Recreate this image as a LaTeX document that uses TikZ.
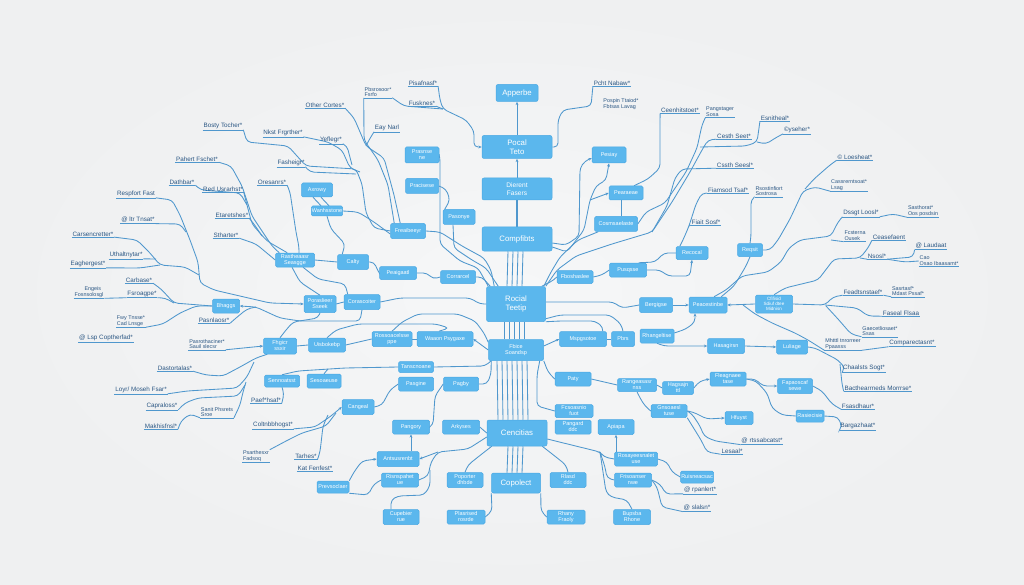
\documentclass[tikz,border=0pt]{standalone}
\usepackage{fontspec}
\setmainfont{Liberation Sans}
\usetikzlibrary{arrows.meta}
\pgfdeclarelayer{back}\pgfdeclarelayer{wires}\pgfsetlayers{back,wires,main}
\definecolor{bgin}{HTML}{F6F7F8}
\definecolor{bgout}{HTML}{EFF0F1}
\definecolor{boxfill}{HTML}{5BB7ED}
\definecolor{boxedge}{HTML}{4AA8E3}
\definecolor{linec}{HTML}{4F97CD}
\definecolor{lbltext}{HTML}{2A5683}
\begin{document}
\begin{tikzpicture}[x=1pt,y=-1pt,
  bx/.style={draw=boxedge,fill=boxfill,rounded corners=1.5pt,line width=0.5pt,text=white,font=\fontsize{5.5}{6}\selectfont,align=center,inner sep=0.5pt},
  big/.style={bx,font=\fontsize{7.8}{8.8}\selectfont,rounded corners=2pt},
  sz/.style 2 args={minimum width=#1pt,minimum height=#2pt},
  ul/.style={draw=linec,line width=0.55pt},
  lb/.style={text=lbltext,font=\fontsize{6.3}{6.7}\selectfont,align=left,inner sep=0.7pt,
    append after command={(\tikzlastnode.south west) edge[ul] (\tikzlastnode.south east)}},
  lbn/.style={text=lbltext,font=\fontsize{6.3}{6.7}\selectfont,align=left,inner sep=0.7pt},
  ln/.style={draw=linec,line width=0.85pt,rounded corners=4pt},
  ar/.style={-{Stealth[length=3.4pt,width=2.8pt]}}]
\begin{pgfonlayer}{back}
\shade[inner color=bgin,outer color=bgout] (0,0) rectangle (1024,585);
\end{pgfonlayer}
\useasboundingbox (0,0) rectangle (1024,585);

% ---------- central column
\node[big,sz={42}{17}] (C1) at (517,93) {Apperbe};
\node[big,sz={70}{23}] (C2) at (517,147) {Pocal\\Teto};
\node[big,sz={70}{22},font=\fontsize{6.6}{7.3}\selectfont] (C3) at (517,189) {Dierent\\Fasers};
\node[big,sz={70}{24}] (C4) at (517,239) {Compfibts};
\node[big,sz={59}{35}] (C5) at (516,304) {Rocial\\Teetip};
\node[bx,sz={55}{21}] (C6) at (516,350) {Fbice\\Soandsp};
\node[big,sz={60}{26}] (C7) at (517,433) {Cencitias};
\node[big,sz={49}{20}] (C8) at (516,483) {Copolect};

% ---------- left boxes
\node[bx,sz={34}{16}] (L1) at (422,155) {Prasnse\\ne};
\node[bx,sz={33}{15}] (L2) at (422,186) {Pracisese};
\node[bx,sz={32}{15}] (L3) at (459,217) {Pasonye};
\node[bx,sz={35}{15}] (L4) at (408,231) {Freaibeeyr};
\node[bx,sz={35}{13}] (L5) at (458,277) {Corrarcel};
\node[bx,sz={37}{13}] (L6) at (398,273) {Peaigaatl};
\node[bx,sz={31}{15}] (L7) at (353,262) {Calty};
\node[bx,sz={39}{14}] (L8) at (295,260) {Rastheaasr\\Seasgge};
\node[bx,sz={31}{14}] (L9) at (317,190) {Axrowy};
\node[bx,sz={31}{10}] (L10) at (327,211) {Wanhsstone};
\node[bx,sz={32}{17}] (L11) at (320,304) {Poraslieer\\Sseek};
\node[bx,sz={36}{15}] (L12) at (362,302) {Corascoiter};
\node[bx,sz={27}{14}] (L13) at (226,306) {Bhaggs};
\node[bx,sz={33}{16}] (L14) at (280,346) {Fhgicr\\ssxir};
\node[bx,sz={37}{14}] (L15) at (327,345) {Uisbokebp};
\node[bx,sz={40}{15}] (L16) at (392,339) {Rossoacelsse\\ppe};
\node[bx,sz={56}{15}] (L17) at (445,339) {Waaon Psygaxe};
\node[bx,sz={35}{11}] (L18) at (416,367) {Tanscnoane};
\node[bx,sz={35}{14}] (L19) at (416,384) {Pasgine};
\node[bx,sz={35}{14}] (L20) at (461,384) {Pagby};
\node[bx,sz={35}{12}] (L21) at (282,381) {Sennoatsst};
\node[bx,sz={34}{14}] (L22) at (324,381) {Sesoaeuse};
\node[bx,sz={32}{15}] (L23) at (358,407) {Cangeal};
\node[bx,sz={37}{14}] (L24) at (411,427) {Pangory};
\node[bx,sz={37}{14}] (L25) at (461,427) {Arkyses};
\node[bx,sz={42}{15}] (L26) at (398,459) {Antsusrenbt};
\node[bx,sz={37}{14}] (L27) at (400,480) {Risnspahet\\ue};
\node[bx,sz={32}{12}] (L28) at (333,487) {Prevsoclaer};
\node[bx,sz={36}{15}] (L29) at (401,517) {Cupebier\\rue};
\node[bx,sz={36}{15}] (L30) at (465,480) {Poporter\\dhbde};
\node[bx,sz={38}{14}] (L31) at (466,517) {Plasrised\\rosrde};

% ---------- right boxes
\node[bx,sz={36}{15}] (R1) at (568,480) {Rlasd\\ddc};
\node[bx,sz={38}{14}] (R2) at (566,517) {Rhany\\Fraoly};
\node[bx,sz={38}{13}] (R3) at (574,411) {Fcsoasnio\\fuot};
\node[bx,sz={36}{14}] (R4) at (573,427) {Pangard\\ddc};
\node[bx,sz={36}{15}] (R5) at (616,427) {Apiapa};
\node[bx,sz={36}{14}] (R6) at (573,379) {Paty};
\node[bx,sz={47}{15}] (R7) at (583,339) {Mspgsotoe};
\node[bx,sz={23}{15}] (R8) at (623,339) {Pbrs};
\node[bx,sz={36}{13}] (R9) at (575,277) {Fboshaslee};
\node[bx,sz={37}{14}] (R10) at (628,270) {Pusqsse};
\node[bx,sz={34}{16}] (R11) at (609,155) {Pesiay};
\node[bx,sz={34}{14}] (R12) at (626,193) {Pearaeae};
\node[bx,sz={43}{15}] (R13) at (616,224) {Cosmsaelaste};
\node[bx,sz={32}{13}] (R14) at (692,253) {Recocal};
\node[bx,sz={25}{13}] (R15) at (750,250) {Reqsit};
\node[bx,sz={33}{15}] (R16) at (656,305) {Bergigse};
\node[bx,sz={38}{16}] (R17) at (708,305) {Peacestinbe};
\node[bx,sz={37}{18},font=\fontsize{4.6}{5}\selectfont] (R18) at (774,304) {Cfifisid\\Sdiuf dtee\\Midnisn};
\node[bx,sz={34}{14}] (R19) at (657,336) {Rhangeltise};
\node[bx,sz={37}{15}] (R20) at (726,346) {Hasagirsn};
\node[bx,sz={31}{14}] (R21) at (792,347) {Luliage};
\node[bx,sz={36}{14}] (R22) at (728,379) {Fleagnaee\\tase};
\node[bx,sz={35}{15}] (R23) at (795,386) {Fapaoscaf\\sewe};
\node[bx,sz={39}{13}] (R24) at (637,385) {Rangeasasr\\nss};
\node[bx,sz={31}{13}] (R25) at (678,388) {Hagsajn\\ttl};
\node[bx,sz={28}{12}] (R26) at (810,416) {Rasiecisie};
\node[bx,sz={36}{13}] (R27) at (669,411) {Gnsoaesl\\tuse};
\node[bx,sz={28}{13}] (R28) at (739,418) {Hfuyst};
\node[bx,sz={43}{14}] (R29) at (636,459) {Rosayeesnalet\\use};
\node[bx,sz={37}{14}] (R30) at (633,480) {Frisoanser\\nwe};
\node[bx,sz={33}{12}] (R31) at (697,477) {Ruisneacsac};
\node[bx,sz={37}{15}] (R32) at (632,517) {Bupsba\\Rhone};

% ---------- left labels
\node[lb] (a1) at (423,83) {Pisafnasf*};
\node[lb] (a2) at (422,103) {Fusknes*};
\node[lb,font=\fontsize{5.4}{5.8}\selectfont] (a3) at (378,92) {Pbsrosoor*\\Fsrfo};
\node[lb] (a4) at (325,105) {Other Cortes*};
\node[lb] (a5) at (387,128) {Eay Narl};
\node[lb] (a6) at (223,126) {Bosty Tocher*};
\node[lb] (a7) at (283,133) {Nkst Frgrther*};
\node[lb] (a8) at (331,140) {Yeflegr*};
\node[lb] (a9) at (197,159) {Pahert Fschet*};
\node[lb] (a10) at (291,163) {Fasheigr*};
\node[lb] (a11) at (182,182) {Dathbar*};
\node[lb] (a12) at (223,189) {Red Usrarhst*};
\node[lb] (a13) at (272,182) {Oresanrs*};
\node[lb] (a14) at (136,194) {Respfort Fast};
\node[lb] (a15) at (232,215) {Etaretshes*};
\node[lb] (a16) at (138,220) {@ ltr Tnsat*};
\node[lb] (a17) at (226,235) {Stharter*};
\node[lb] (a18) at (93,234) {Carsencretter*};
\node[lb] (a19) at (126,255) {Uthaltnytar*};
\node[lb] (a20) at (88,264) {Eaghergest*};
\node[lb] (a21) at (139,280) {Carbase*};
\node[lb,font=\fontsize{5.4}{5.8}\selectfont] (a22) at (89,292) {\hspace*{10pt}Engeis\\Fosnsolosgl};
\node[lb] (a23) at (142,294) {Fsroagpe*};
\node[lb,font=\fontsize{5.4}{5.8}\selectfont] (a24) at (131,321) {Fwy Tnsse*\\Cad Lnsge};
\node[lb] (a25) at (214,320) {Pasnlaosr*};
\node[lb] (a26) at (106,338) {@ Lsp Coptherfad*};
\node[lb,font=\fontsize{5.4}{5.8}\selectfont] (a27) at (207,344) {Pasrothaciner*\\Sauil slecsr};
\node[lb] (a28) at (175,368) {Dastortalas*};
\node[lb] (a29) at (141,390) {Loyr/ Moseh Fsar*};
\node[lb] (a30) at (162,406) {Capraloss*};
\node[lb,font=\fontsize{5.4}{5.8}\selectfont] (a31) at (217,412) {Sanit Phsrets\\Sroe};
\node[lb] (a32) at (161,426) {Makhisfnsl*};
\node[lb] (a33) at (266,400) {Paef*hsaf*};
\node[lb] (a34) at (273,425) {Coltnbbhogst*};
\node[lb,font=\fontsize{5.4}{5.8}\selectfont] (a35) at (256,456) {Psarthesxr\\Fadsoq};
\node[lb] (a36) at (306,456) {Tarhes*};
\node[lb] (a37) at (315,468) {Kat Fenfest*};

% ---------- right labels
\node[lb] (b1) at (612,83) {Pcht Nabaw*};
\node[lbn,font=\fontsize{5.4}{5.8}\selectfont] (b2) at (621,104) {Pospin Ttaiod*\\Fbtsas Lavag};
\node[lb] (b3) at (680,110) {Ceenhitstoet*};
\node[lb,font=\fontsize{5.4}{5.8}\selectfont] (b4) at (720,112) {Pangstager\\Sosa};
\node[lb] (b5) at (775,118) {Esnitheal*};
\node[lb] (b6) at (734,136) {Cesth Seet*};
\node[lb] (b7) at (797,130) {\textcopyright yseher*};
\node[lb] (b8) at (735,165) {Cssth Seesl*};
\node[lb] (b9) at (855,157) {\textcopyright{} Loesheat*};
\node[lb] (b10) at (728,190) {Fiamsod Tsaf*};
\node[lb,font=\fontsize{5.4}{5.8}\selectfont] (b11) at (769,191) {Rsostinfiort\\Sostrosa};
\node[lb,font=\fontsize{5.4}{5.8}\selectfont] (b12) at (849,185) {Cassrerntsoat*\\Lsag};
\node[lb] (b13) at (706,222) {Fiait Sosf*};
\node[lb] (b14) at (861,213) {Dssgt Loosl*};
\node[lb,font=\fontsize{5.4}{5.8}\selectfont] (b15) at (923,211) {Sasthorat*\\Oos posdsin};
\node[lb,font=\fontsize{5.4}{5.8}\selectfont] (b16) at (855,236) {Fcsterna\\Ousek};
\node[lb] (b17) at (889,237) {Ceasefaent};
\node[lb] (b18) at (931,246) {@ Laudaat};
\node[lb] (b19) at (877,256) {Nsosl*};
\node[lb,font=\fontsize{5.4}{5.8}\selectfont] (b20) at (939,261) {Cao\\Osao Ibaasamt*};
\node[lb] (b21) at (863,292) {Feadtsnstaef*};
\node[lb,font=\fontsize{5.4}{5.8}\selectfont] (b22) at (908,291) {Sasrtasf*\\Mdast Pssaf*};
\node[lb] (b23) at (901,313) {Faseal Flsaa};
\node[lb,font=\fontsize{5.4}{5.8}\selectfont] (b24) at (880,331) {Gaecetliosaet*\\Ssas};
\node[lb,font=\fontsize{5.4}{5.8}\selectfont] (b25) at (843,344) {Mhtttl tnrorreer\\Ppaasss};
\node[lb] (b26) at (912,343) {Comparectasnt*};
\node[lb] (b27) at (864,368) {Chaalsts Sogt*};
\node[lb] (b28) at (878,388) {Bacthearrneds Morrrse*};
\node[lb] (b29) at (858,406) {Fsasdhaur*};
\node[lb] (b30) at (858,426) {Bargazhaat*};
\node[lb] (b31) at (762,441) {@ rtssabcatst*};
\node[lb] (b32) at (732,451) {Lesaal*};
\node[lb] (b33) at (700,490) {@ rpanlert*};
\node[lb] (b34) at (697,508) {@ slalsn*};

\coordinate (j1) at (438,452);
\coordinate (j2) at (600,452);
\coordinate (j3) at (590,200);

\begin{pgfonlayer}{wires}
% central column
\draw[ln,ar] (C2.north) -- (C1.south);
\draw[ln,ar] (C3.north) -- (C2.south);
\draw[ln,line width=2pt] (C4.north) -- (C3.south);
\foreach \k in {-9,-4,1,6} \draw[ln] ([xshift=\k pt]C4.south) -- ([xshift=\k pt]C5.north);
\foreach \k in {-12,-7,-2,3,8} \draw[ln] ([xshift=\k pt]C5.south) -- ([xshift=\k pt]C6.north);
\foreach \k in {-19,-14,-9,-4,1,6,11} \draw[ln] ([xshift=\k pt]C6.south) -- ([xshift=\k pt]C7.north);
\foreach \k in {-9,-4,1,6} \draw[ln] ([xshift=\k pt]C7.south) -- ([xshift=\k pt]C8.north);

% top left
\draw[ln,ar] (a1.south east) -- (440,100) -- (443,109) -- (466,120) -- (474,131) -- (474,147) -- (C2.west);
\draw[ln] (a2.south east) -- (443,109);
\draw[ln] (a3.south east) -- (404,106) -- (443,109);
\draw[ln] (a3.south west) -- (364,140) -- (378,160) -- (388,185) -- ([xshift=4pt]L4.north west);
\draw[ln] (a4.south east) -- (354,118) -- (366,146) -- (384,158) -- (394,195) -- ([xshift=10pt]L4.north west);
\draw[ln] (a5.south west) -- (369,140) -- (366,146);
\draw[ln] (a6.south east) -- (247,142) -- (288,146) -- (306,166) -- (356,169) -- (362,184) -- (366,213) -- (374,228) -- (L4.west);
\draw[ln] (a7.south east) -- (328,142) -- (342,150) -- (350,168) -- (360,172);
\draw[ln] (a8.south east) -- (347,146) -- (352,165);
\draw[ln] (a10.south east) -- (310,172) -- (356,174);
\draw[ln] ([xshift=-4pt]L9.south) -- ([xshift=-6pt]L10.north);
\draw[ln] ([xshift=4pt]L9.south) -- ([xshift=2pt]L10.north);
\draw[ln] (L10.east) -- (358,212) -- (374,222) -- ([yshift=-3pt]L4.west);
\draw[ln] (L10.south) -- (331,229) -- (345,244) -- ([xshift=5pt]L7.north west);
\draw[ln] (a13.south east) -- (290,192) -- (296,232) -- (299,247) -- ([xshift=4pt]L8.north);
\draw[ln] (a9.south east) -- (231,166) -- (242,186) -- (252,216) -- (272,246) -- ([xshift=4pt]L8.north west);
\draw[ln] (a11.south east) -- (201,190) -- (240,193) -- (247,205);
\draw[ln] (a12.south east) -- (247,205) -- (252,224) -- (267,241) -- ([xshift=12pt]L8.north west);
\draw[ln] (a15.south east) -- (254,224) -- (262,236);
\draw[ln] (a17.south east) -- (256,244) -- (L8.west);
\draw[ln] (L8.east) -- (L7.west);
\draw[ln] (L7.east) -- (374,262) -- (378,271) -- (L6.west);
\draw[ln] ([xshift=-3pt]L8.south) -- (300,282) -- (312,290) -- (L11.north);
\draw[ln] ([xshift=8pt]L8.south) -- (318,279) -- (345,284) -- ([xshift=4pt]L12.north west);
\draw[ln] (L11.east) -- (L12.west);

% far left
\draw[ln,ar] (a14.south east) -- (172,200) -- (180,215) -- (190,240) -- (198,262) -- (200,283) -- (214,290) -- (270,303) -- (L11.west);
\draw[ln] (a16.south east) -- (180,224) -- (186,232);
\draw[ln] (a18.south east) -- (137,240) -- (150,253) -- (160,265) -- (185,267) -- (199,275);
\draw[ln] (a19.south east) -- (156,259);
\draw[ln] (a20.south east) -- (140,268) -- (160,265);
\draw[ln] (a21.south east) -- (161,289) -- (174,303) -- (L13.west);
\draw[ln] (a23.south east) -- (165,298) -- (174,303);
\draw[ln] (a22.south east) -- (a23.south west);
\draw[ln] (a24.south east) -- (163,324) -- (180,313) -- (196,306) -- (L13.west);
\draw[ln,ar] (L12.south) -- (360,321) -- (300,321) -- (280,318) -- (256,307) -- (L13.east);
\draw[ln] (a25.south east) -- (236,318) -- (247,309) -- (256,307);
\draw[ln] (L11.south) -- (318,318) -- (293,322) -- (286,330) -- (L14.north);
\draw[ln,ar] (a27.south east) -- (L14.west);
\draw[ln] (a28.south east) -- (206,375) -- (223,376) -- (240,367) -- (256,358) -- ([xshift=4pt]L14.south west);
\draw[ln] (a29.south east) -- (187,391) -- (237,388) -- (247,377) -- (254,362);
\draw[ln] (a30.south east) -- (185,403) -- (198,398) -- (238,396) -- (245,385);
\draw[ln] (a32.south east) -- (181,421) -- (190,414) -- (a31.south west);
\draw[ln] (a31.south east) -- (240,405) -- (243,392) -- (246,382);
\draw[ln] (L14.east) -- (L15.west);
\draw[ln] (L15.east) -- (L16.west);
\draw[ln] (L16.east) -- (L17.west);
\draw[ln,ar] (C6.west) -- (L17.east);
\draw[ln] (L16.north) -- (402,322) -- (418,314) -- (458,314) -- (475,321) -- (484,333) -- ([yshift=-3pt]C6.north west);
\draw[ln] (L15.north) -- (336,330) -- (358,324) -- (436,324) -- (449,328) -- ([xshift=-6pt]L17.north);
\draw[ln] (L12.east) -- (400,298) -- (470,298) -- (480,304) -- (C5.west);
\draw[ln] (L6.east) -- (427,273) -- (433,279) -- (L5.west);
\draw[ln] (L5.east) -- (482,277) -- ([xshift=4pt]C5.north west);
\draw[ln] (L4.east) -- (440,232) -- (462,246) -- (484,258) -- (491,270) -- ([xshift=8pt]C5.north west);
\draw[ln] (L1.east) -- (440,158) -- (440,244) -- (460,261) -- (478,268) -- ([xshift=2pt]C5.north west);
\draw[ln] (L2.east) -- (446,189) -- (450,200) -- ([xshift=2pt]L3.north west);
\draw[ln] ([xshift=-6pt]L3.south) -- (454,248) -- (472,260) -- (486,268) -- ([xshift=12pt]C5.north west);

% lower left centre
\draw[ln] ([xshift=3pt]C6.south west) -- (485,366) -- (L18.east);
\draw[ln] (L20.east) -- (487,384) -- (491,374) -- ([xshift=3pt]C6.south west);
\draw[ln] (L24.east) -- (433,425) -- (435,396) -- (L20.west);
\draw[ln] (L23.east) -- (382,405) -- (390,390) -- (L19.west);
\draw[ln,ar] (a34.south east) -- (315,427) -- (331,416) -- (L23.west);
\draw[ln] (a35.north east) -- (288,440) -- (302,433) -- (326,426) -- (336,413);
\draw[ln] (a36.south east) -- (320,452) -- (323,426) -- (328,415);
\draw[ln] (a33.south east) -- (284,394) -- (L21.south);
\draw[ln] (L21.north) -- (298,371) -- (345,368) -- (L18.west);
\draw[ln] (L22.north) -- (328,369);
\draw[ln,ar] (L26.north -| L24.south) -- (L24.south);
\draw[ln,ar] (L28.north east) -- (354,472) -- (362,461) -- (L26.west);
\draw[ln] (L28.south east) -- (368,495) -- (374,484) -- (L27.west);
\draw[ln] ([yshift=-4pt]C7.west) -- (468,449) -- (j1) -- (431,462) -- (428,476) -- (L27.east);
\draw[ln,ar] (j1) -- (L26.east);
\draw[ln] ([xshift=-10pt]L29.north) -- (391,500) -- (398,496) -- (424,495) -- (430,486) -- (430,470);
\draw[ln] (L25.east) -- (C7.west);
\draw[ln] ([xshift=5pt]C7.south west) -- (478,457) -- (468,465) -- (L30.north);
\draw[ln] ([xshift=-5pt]C7.south east) -- (556,457) -- (566,465) -- (R1.north);
\draw[ln] (C8.south west) -- (492,511) -- (L31.east);
\draw[ln] (C8.south east) -- (541,511) -- (R2.west);

% lower right centre
\draw[ln] ([xshift=-4pt]C6.south east) -- (537,375) -- (537,406) -- (R3.west);
\draw[ln] (C6.south east) -- (548,372) -- (R6.west);
\draw[ln] ([yshift=-6pt]C7.east) -- (j2) -- (604,457) -- (R29.west);
\draw[ln] (j2) -- (605,467) -- (607,478) -- (R30.west);
\draw[ln] (j2) -- (606,492) -- (611,497) -- (627,500) -- (R32.north);
\draw[ln,ar] (R29.north -| R5.south) -- (R5.south);
\draw[ln] (R29.east) -- (667,462) -- (672,472) -- (R31.west);
\draw[ln] (R30.east) -- (660,484) -- (666,494) -- (b33.south west);
\draw[ln] (R30.east) -- (657,487) -- (662,507) -- (b34.south west);
\draw[ln,ar] ([yshift=4pt]C6.east) -- (R7.west);
\draw[ln] (R7.east) -- (R8.west);
\draw[ln] ([yshift=3pt]C5.south east) -- (560,315) -- (610,315) -- (621,324) -- (R8.north);
\draw[ln] (C5.south east) -- (560,321) -- (595,321) -- (603,327) -- ([xshift=-4pt]R7.north east);
\draw[ln] ([yshift=2pt]C5.east) -- (566,302) -- (613,302) -- (622,308) -- (R16.west);
\draw[ln] (R9.west) -- (554,280) -- ([xshift=-4pt]C5.north east);
\draw[ln] (R9.east) -- (602,275) -- (R10.west);
\draw[ln,ar] (R10.east) -- (660,270) -- (668,276) -- (690,276) -- (R14.south);
\draw[ln] (R14.west) -- (664,253) -- (655,262) -- ([xshift=-8pt]R10.north east);

% upper right centre
\draw[ln,ar] ([yshift=-4pt]C4.east) -- (566,245) -- (579,236) -- (580,168) -- (585,161) -- ([yshift=-3pt]R11.west);
\draw[ln,ar] ([yshift=-8pt]C4.east) -- (567,252) -- (584,230) -- (j3) -- (596,186) -- (606,180) -- (R11.south);
\draw[ln,ar] (j3) -- (R12.west);
\draw[ln] ([xshift=4pt]R13.south west) -- (578,240) -- (560,257) -- (551,272) -- ([xshift=-2pt]C5.north east);
\draw[ln] ([xshift=-5pt]R12.south) -- ([xshift=5pt]R13.north);
\draw[ln] (b1.south west) -- (591,106) -- (563,110) -- (558,120) -- (558,147) -- (C2.east);
\draw[ln] (b3.south west) -- (660,119) -- (660,168) -- (648,179) -- ([xshift=8pt]R12.north);
\draw[ln] (b4.south west) -- (702,125) -- (697,148) -- (686,172) -- (665,203) -- (646,212) -- (R13.east);
\draw[ln] (b5.south west) -- (759,128) -- (757,142) -- (746,146) -- (700,147);
\draw[ln] (b7.south west) -- (777,137) -- (766,144) -- (757,142);
\draw[ln] (b6.south west) -- (708,140) -- (702,150) -- (690,172) -- (672,202) -- (652,232) -- (612,244) -- (576,256) -- (557,270) -- (C5.north east);
\draw[ln] (b8.south west) -- (682,169) -- (675,178) -- (667,206) -- (652,232);
\draw[ln] (b10.south west) -- (702,193) -- (696,204) -- (689,226) -- (683,240) -- ([xshift=4pt]R14.north west);
\draw[ln] (b13.south west) -- (689,226);
\draw[ln] (b11.south west) -- (751,200) -- (751,236) -- (R15.north);
\draw[ln] (b12.south west) -- (815,187) -- (803,191) -- (797,204) -- (790,219) -- (778,240) -- (770,250) -- (R15.east);
\draw[ln] (b9.south west) -- (830,165) -- (814,179) -- (805,189);
\draw[ln] (R15.south) -- (746,266) -- (734,286) -- ([xshift=-6pt]R17.north east);

% right middle
\draw[ln,ar] (R16.east) -- (R17.west);
\draw[ln,ar] (R18.west) -- (R17.east);
\draw[ln,ar] ([yshift=3pt]R19.east) -- (686,329) -- (695,322) -- ([xshift=-13pt]R17.south);
\draw[ln,ar] (R19.south) -- (664,346) -- (R20.west);
\draw[ln,ar] (R20.east) -- (R21.west);
\draw[ln] (R21.east) -- (815,348) -- (838,360) -- (845,368) -- (b27.south west);
\draw[ln] (b28.south west) -- (842,384) -- (840,364);
\draw[ln,ar] (R22.east) -- (755,379) -- (763,386) -- (R23.west);
\draw[ln] (R22.east) -- (756,381) -- (767,393) -- (772,408) -- (782,415) -- (R26.west);
\draw[ln] (R23.east) -- (822,391) -- (832,404) -- (b29.south west);
\draw[ln] (R26.east) -- (838,417) -- (842,427) -- (b30.south west);
\draw[ln] (R6.east) -- (R24.west);
\draw[ln] (R24.east) -- (R25.west);
\draw[ln,ar] (R25.east) -- (700,381) -- (R22.west);
\draw[ln] (R24.south) -- (640,398) -- (645,406) -- (R27.west);
\draw[ln,ar] (R27.east) -- (693,412) -- (707,419) -- (R28.west);
\draw[ln] (R27.east) -- (692,414) -- (700,426) -- (704,436) -- (715,441) -- (b31.south west);
\draw[ln] (R27.south east) -- (701,440) -- (707,452) -- (b32.south west);

% far right
\draw[ln] (R18.east) -- (825,305) -- (833,297) -- (b21.south west);
\draw[ln] (b22.south west) -- (b21.south east);
\draw[ln] (b23.south west) -- (868,316) -- (857,308) -- (825,305);
\draw[ln] (b24.south west) -- (851,334) -- (838,319) -- (826,306);
\draw[ln] (b25.south west) -- (808,340) -- (795,333) -- (772,323) -- (755,314) -- (743,305);
\draw[ln] (b26.south west) -- (b25.south east);
\draw[ln] (R18.north) -- (785,288) -- (818,280) -- (834,259) -- (860,258) -- (868,248) -- (b17.south west);
\draw[ln] (b19.south west) -- (860,258);
\draw[ln] (b19.south east) -- (913,257) -- (b18.south west);
\draw[ln] (b19.south east) -- (905,262) -- (b20.west);
\draw[ln] (b14.south west) -- (838,222) -- (831,236) -- (800,240) -- (789,248) -- (781,262) -- (768,272) -- (742,276) -- (726,290) -- ([xshift=6pt]R17.north);
\draw[ln] (b16.south west) -- (831,240);
\draw[ln] (b15.south west) -- (893,214) -- (b14.south east);
\end{pgfonlayer}
\end{tikzpicture}
\end{document}
